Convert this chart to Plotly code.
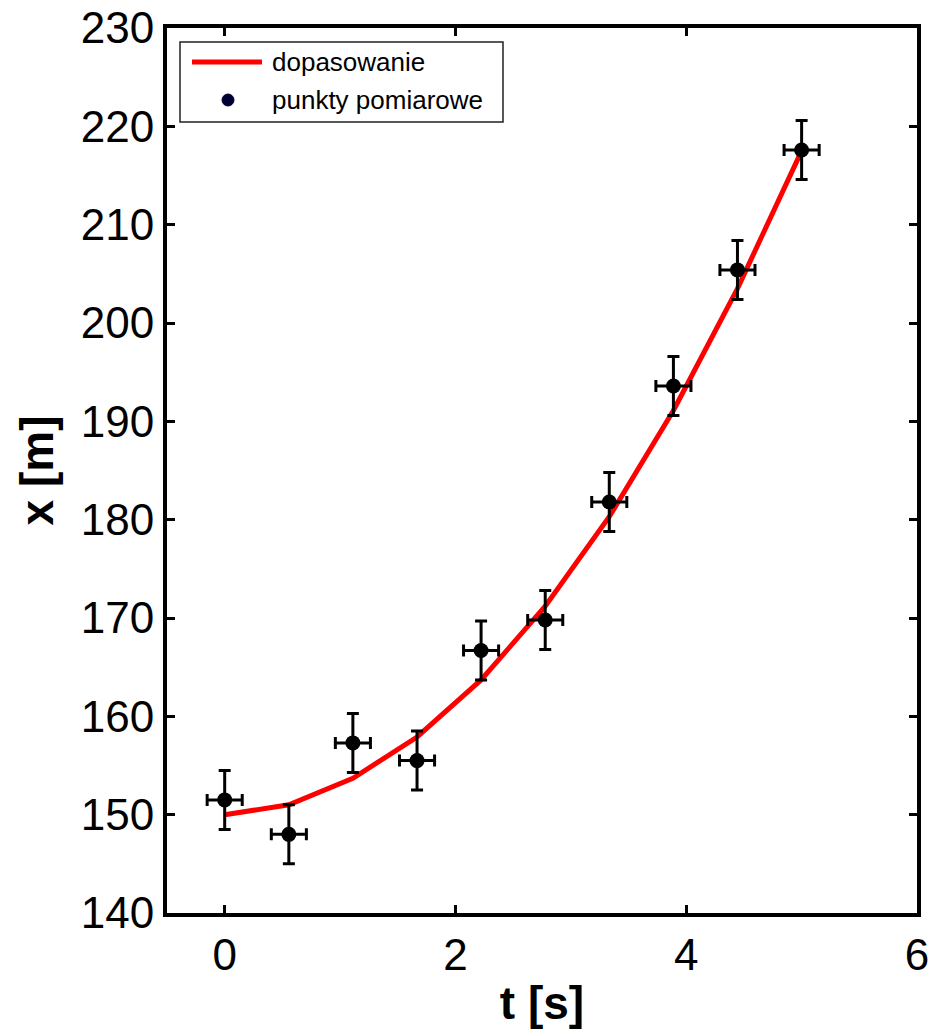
import plotly.graph_objects as go

# data
t_points = [0.0, 0.556, 1.111, 1.667, 2.222, 2.778, 3.333, 3.889, 4.444, 5.0]
x_points = [151.5, 148.0, 157.3, 155.5, 166.7, 169.8, 181.8, 193.6, 205.4, 217.6]
x_err = [3.0] * 10
t_err = [0.152] * 10
x_fit = [150.0, 151.0, 153.7, 157.9, 163.7, 171.2, 180.3, 191.1, 203.5, 217.5]

x_ticks = [0, 2, 4, 6]
y_ticks = [140, 150, 160, 170, 180, 190, 200, 210, 220, 230]

legend_labels = ["dopasowanie", "punkty pomiarowe"]

FONT = "Liberation Sans, Arial, sans-serif"

W, H = 934, 1033
ML, MR, MT, MB = 167, 17, 28, 120
PW, PH = W - ML - MR, H - MT - MB


def px(xs):
    return (xs - ML) / PW


def py(ys):
    return (H - MB - ys) / PH


fig = go.Figure()
fig.add_trace(go.Scatter(
    x=t_points, y=x_fit, mode="lines", name=legend_labels[0],
    showlegend=False,
    line=dict(color="#ff0000", width=5),
))
fig.add_trace(go.Scatter(
    x=t_points, y=x_points, mode="markers", name=legend_labels[1],
    showlegend=False,
    marker=dict(color="black", size=15),
    error_y=dict(type="data", array=x_err, color="black", thickness=3, width=6),
    error_x=dict(type="data", array=t_err, color="black", thickness=3, width=6),
))

axis_common = dict(
    showline=True, linecolor="black", linewidth=4, mirror="ticks",
    ticks="inside", ticklen=8, tickwidth=3, tickcolor="black",
    showgrid=False, zeroline=False, automargin=False,
    ticklabeloverflow="allow",
    tickfont=dict(family=FONT, size=44, color="black"),
)

fig.update_xaxes(range=[-0.5, 6], tickvals=x_ticks,
                 title=dict(text="<b>t [s]</b>", font=dict(family=FONT, size=46, color="black"), standoff=10),
                 **axis_common)
fig.update_yaxes(range=[140, 230], tickvals=y_ticks,
                 title=dict(text="<b>x [m]</b>", font=dict(family=FONT, size=46, color="black"), standoff=14),
                 **axis_common)

# hand-drawn legend box (matches the reference's long line sample)
shapes = [
    dict(type="rect", xref="paper", yref="paper",
         x0=px(180), x1=px(503), y0=py(122), y1=py(42),
         line=dict(color="#222222", width=1.5), fillcolor="white", layer="above"),
    dict(type="line", xref="paper", yref="paper",
         x0=px(192), x1=px(262), y0=py(62), y1=py(62),
         line=dict(color="#ff0000", width=5), layer="above"),
    dict(type="circle", xref="paper", yref="paper",
         x0=px(222), x1=px(234), y0=py(106), y1=py(94),
         line=dict(color="#000033", width=1), fillcolor="#000033", layer="above"),
]
annotations = [
    dict(text=legend_labels[0], xref="paper", yref="paper", x=px(270), y=py(62),
         xanchor="left", yanchor="middle", showarrow=False,
         font=dict(family=FONT, size=26, color="black")),
    dict(text=legend_labels[1], xref="paper", yref="paper", x=px(270), y=py(100),
         xanchor="left", yanchor="middle", showarrow=False,
         font=dict(family=FONT, size=26, color="black")),
]

fig.update_layout(
    width=W, height=H,
    margin=dict(l=ML, r=MR, t=MT, b=MB),
    plot_bgcolor="white", paper_bgcolor="white",
    showlegend=False,
    shapes=shapes, annotations=annotations,
)

fig.write_html("out.html",
               config={"displayModeBar": False},
               post_script="document.body.style.margin='0';document.body.style.overflow='hidden';")
